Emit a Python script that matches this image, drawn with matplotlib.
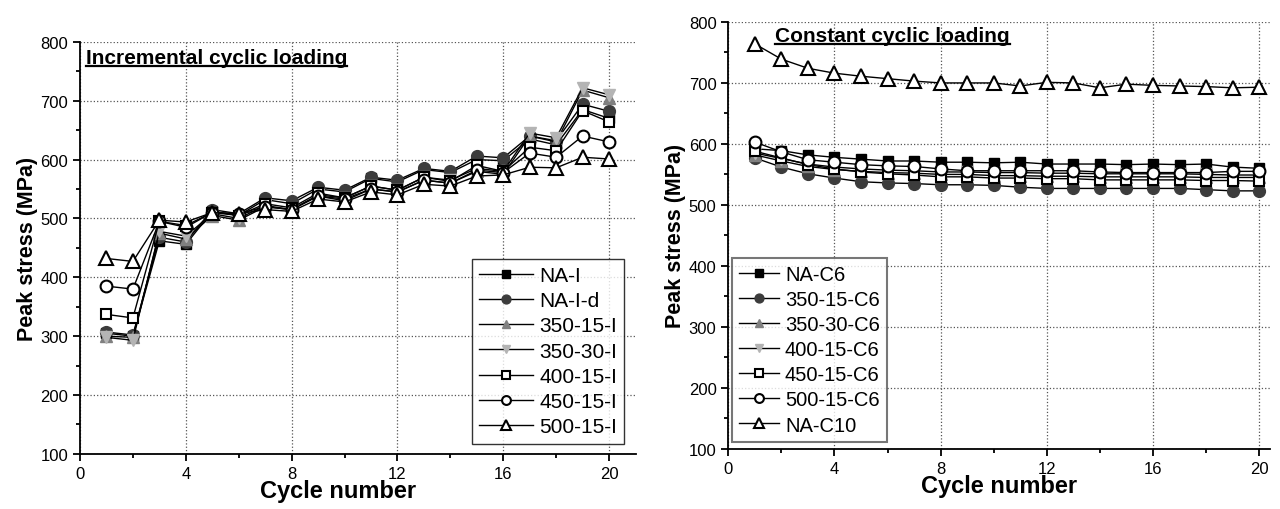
import numpy as np
import matplotlib.pyplot as plt
from matplotlib.lines import Line2D
from matplotlib.ticker import MultipleLocator

plt.rcParams['font.family'] = ['Liberation Sans', 'DejaVu Sans']

cycles = np.arange(1, 21)

# incremental cyclic loading (left)
inc_labels = ['NA-I', 'NA-I-d', '350-15-I', '350-30-I', '400-15-I', '450-15-I', '500-15-I']
na_i = [305, 300, 462, 456, 512, 505, 532, 525, 550, 545, 568, 562, 583, 578, 600, 598, 635, 625, 685, 670]
na_i_d = [307, 302, 468, 460, 515, 508, 535, 530, 553, 548, 570, 565, 585, 580, 606, 603, 640, 632, 694, 682]
i_350_15 = [300, 298, 475, 465, 505, 497, 520, 515, 538, 530, 550, 545, 565, 560, 580, 575, 640, 630, 718, 705]
i_350_30 = [298, 293, 478, 470, 508, 500, 522, 515, 540, 535, 555, 548, 570, 565, 585, 580, 645, 637, 722, 710]
i_400_15 = [337, 331, 495, 488, 510, 505, 525, 518, 543, 535, 555, 548, 570, 563, 590, 580, 621, 615, 683, 664]
i_450_15 = [385, 380, 495, 485, 510, 508, 520, 515, 538, 533, 550, 545, 565, 560, 582, 578, 611, 604, 640, 630]
i_500_15 = [432, 427, 497, 494, 510, 508, 515, 512, 533, 528, 545, 540, 558, 555, 572, 574, 587, 586, 604, 601]
inc_data = [na_i, na_i_d, i_350_15, i_350_30, i_400_15, i_450_15, i_500_15]

# constant cyclic loading (right)
con_labels = ['NA-C6', '350-15-C6', '350-30-C6', '400-15-C6', '450-15-C6', '500-15-C6', 'NA-C10']
na_c6 = [592, 589, 582, 578, 575, 572, 572, 570, 570, 569, 570, 567, 567, 567, 566, 567, 566, 567, 562, 560]
c6_350_15 = [577, 562, 551, 544, 538, 536, 535, 533, 533, 532, 529, 527, 527, 527, 527, 527, 527, 525, 523, 523]
c6_350_30 = [582, 572, 563, 558, 555, 553, 552, 550, 550, 548, 548, 547, 547, 546, 546, 546, 546, 545, 545, 545]
c6_400_15 = [585, 576, 567, 562, 559, 557, 556, 554, 554, 553, 553, 552, 552, 551, 551, 551, 551, 550, 549, 549]
c6_450_15 = [588, 577, 566, 559, 554, 551, 549, 546, 546, 544, 544, 543, 543, 541, 541, 541, 541, 540, 540, 539]
c6_500_15 = [603, 587, 574, 570, 566, 564, 563, 559, 556, 556, 556, 556, 556, 554, 553, 553, 553, 553, 555, 555]
na_c10 = [764, 739, 724, 716, 711, 707, 703, 700, 700, 700, 695, 701, 700, 692, 698, 696, 695, 694, 692, 693]
con_data = [na_c6, c6_350_15, c6_350_30, c6_400_15, c6_450_15, c6_500_15, na_c10]

# marker styles shared by both panels
markers = ['s', 'o', '^', 'v', 's', 'o', '^']
faces = ['black', '#3c3c3c', '#808080', '#b4b4b4', 'white', 'white', 'white']
edges = ['black', '#3c3c3c', '#808080', '#b4b4b4', 'black', 'black', 'black']
msizes = [7.5, 8.5, 8.5, 8.5, 7.5, 8.5, 9.5]

fig = plt.figure(figsize=(12.8, 5.1), dpi=100)
ax1 = fig.add_axes([0.0625, 0.108, 0.434, 0.808])
ax2 = fig.add_axes([0.569, 0.118, 0.423, 0.837])


def draw_panel(ax, data, labels, xmax):
    for i, (vals, lab) in enumerate(zip(data, labels)):
        ax.plot(cycles, vals, color='black', lw=1, marker=markers[i], ms=msizes[i],
                mfc=faces[i], mec=edges[i], mew=1.5 if faces[i] == 'white' else 1,
                label=lab)
    ax.set_xlim(0, xmax)
    ax.set_ylim(100, 800)
    ax.xaxis.set_major_locator(MultipleLocator(4))
    ax.xaxis.set_minor_locator(MultipleLocator(2))
    ax.yaxis.set_major_locator(MultipleLocator(100))
    ax.yaxis.set_minor_locator(MultipleLocator(50))
    ax.grid(True, which='major', ls=':', color='#555555', lw=0.9)
    ax.spines['top'].set_visible(False)
    ax.spines['right'].set_visible(False)
    ax.spines['left'].set_linewidth(1.3)
    ax.spines['bottom'].set_linewidth(1.3)
    ax.tick_params(which='major', direction='out', length=5, width=1.3, labelsize=12)
    ax.tick_params(which='minor', direction='out', length=3, width=1.3)
    ax.set_xlabel('Cycle number', fontsize=17, fontweight='bold', labelpad=-1)
    ax.set_ylabel('Peak stress (MPa)', fontsize=15.5, fontweight='bold', labelpad=2)


draw_panel(ax1, inc_data, inc_labels, 21)
draw_panel(ax2, con_data, con_labels, 20.4)
ax1.xaxis.set_label_coords(0.465, -0.062)

leg1 = ax1.legend(loc='lower right', bbox_to_anchor=(0.98, 0.025), fontsize=15,
                  frameon=True, fancybox=False, edgecolor='black', handlelength=2.6,
                  handletextpad=0.3, labelspacing=0.3, borderpad=0.35,
                  borderaxespad=0, markerscale=0.75)
leg1.get_frame().set_linewidth(1)
leg2 = ax2.legend(loc='lower left', bbox_to_anchor=(0.006, 0.017), fontsize=14.5,
                  frameon=True, fancybox=False, edgecolor='#555555', handlelength=2.0,
                  handletextpad=0.3, labelspacing=0.3, borderpad=0.35,
                  borderaxespad=0, markerscale=0.75)
leg2.get_frame().set_linewidth(1.5)

t1 = ax1.text(0.01, 0.985, 'Incremental cyclic loading', transform=ax1.transAxes,
              fontsize=15, fontweight='bold', va='top', ha='left')
t2 = ax2.text(0.087, 0.99, 'Constant cyclic loading', transform=ax2.transAxes,
              fontsize=15, fontweight='bold', va='top', ha='left')

# underline the panel titles
fig.canvas.draw()
for t in (t1, t2):
    bb = t.get_window_extent()
    x0, y0 = fig.transFigure.inverted().transform((bb.x0, bb.y0 + 1))
    x1, _ = fig.transFigure.inverted().transform((bb.x1, bb.y0 + 1))
    fig.add_artist(Line2D([x0, x1], [y0, y0], color='black', lw=1.6,
                          transform=fig.transFigure))

fig.savefig('out.png', dpi=100)
